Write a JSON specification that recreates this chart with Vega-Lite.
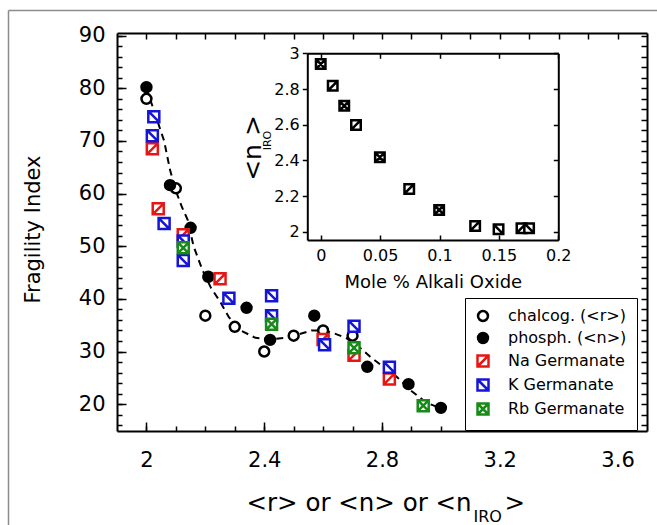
{
  "$schema": "https://vega.github.io/schema/vega-lite/v6.json",
  "width": 530,
  "height": 398,
  "autosize": {"type": "none"},
  "padding": {"left": 117, "top": 33, "right": 10, "bottom": 94},
  "background": "white",
  "config": {
    "view": {"stroke": null},
    "font": "DejaVu Sans",
    "axis": {
      "grid": false,
      "domainColor": "black",
      "domainWidth": 2,
      "tickColor": "black",
      "tickWidth": 1.5,
      "labelColor": "black",
      "titleColor": "black",
      "labelFont": "DejaVu Sans",
      "titleFont": "DejaVu Sans",
      "titleFontWeight": "normal",
      "labelFlush": false,
      "labelOverlap": false,
      "labelExpr": "'' + datum.value"
    }
  },
  "datasets": {
    "curve": [
      {"r": 2.0, "fi": 80}, {"r": 2.03, "fi": 75}, {"r": 2.06, "fi": 70}, {"r": 2.08, "fi": 64.5},
      {"r": 2.1, "fi": 60.5}, {"r": 2.12, "fi": 57.5}, {"r": 2.14, "fi": 55}, {"r": 2.16, "fi": 50},
      {"r": 2.19, "fi": 45.5}, {"r": 2.22, "fi": 42}, {"r": 2.25, "fi": 39.5}, {"r": 2.28, "fi": 36.5},
      {"r": 2.32, "fi": 34}, {"r": 2.37, "fi": 32.6}, {"r": 2.42, "fi": 32.3}, {"r": 2.47, "fi": 32.6},
      {"r": 2.52, "fi": 33.3}, {"r": 2.56, "fi": 34}, {"r": 2.6, "fi": 34}, {"r": 2.64, "fi": 33.4},
      {"r": 2.68, "fi": 32.5}, {"r": 2.72, "fi": 31}, {"r": 2.76, "fi": 29}, {"r": 2.8, "fi": 27.3},
      {"r": 2.85, "fi": 25.2}, {"r": 2.9, "fi": 22.5}, {"r": 2.95, "fi": 20.3}, {"r": 3.0, "fi": 19.2}
    ],
    "main": [
      {"series": "chalcog. (<r>)", "r": 2.0, "fi": 78},
      {"series": "chalcog. (<r>)", "r": 2.1, "fi": 61},
      {"series": "chalcog. (<r>)", "r": 2.2, "fi": 36.8},
      {"series": "chalcog. (<r>)", "r": 2.3, "fi": 34.7},
      {"series": "chalcog. (<r>)", "r": 2.4, "fi": 30},
      {"series": "chalcog. (<r>)", "r": 2.5, "fi": 33},
      {"series": "chalcog. (<r>)", "r": 2.6, "fi": 34},
      {"series": "chalcog. (<r>)", "r": 2.7, "fi": 33},
      {"series": "phosph. (<n>)", "r": 2.0, "fi": 80.2},
      {"series": "phosph. (<n>)", "r": 2.08, "fi": 61.6},
      {"series": "phosph. (<n>)", "r": 2.15, "fi": 53.5},
      {"series": "phosph. (<n>)", "r": 2.21, "fi": 44.2},
      {"series": "phosph. (<n>)", "r": 2.34, "fi": 38.3},
      {"series": "phosph. (<n>)", "r": 2.42, "fi": 32.2},
      {"series": "phosph. (<n>)", "r": 2.57, "fi": 36.8},
      {"series": "phosph. (<n>)", "r": 2.75, "fi": 27.1},
      {"series": "phosph. (<n>)", "r": 2.89, "fi": 23.8},
      {"series": "phosph. (<n>)", "r": 3.0, "fi": 19.3},
      {"series": "Na Germanate", "r": 2.02, "fi": 68.5},
      {"series": "Na Germanate", "r": 2.04, "fi": 57.1},
      {"series": "Na Germanate", "r": 2.125, "fi": 52.2},
      {"series": "Na Germanate", "r": 2.25, "fi": 43.8},
      {"series": "Na Germanate", "r": 2.6, "fi": 32.3},
      {"series": "Na Germanate", "r": 2.705, "fi": 29.3},
      {"series": "Na Germanate", "r": 2.825, "fi": 24.8},
      {"series": "K Germanate", "r": 2.025, "fi": 74.6},
      {"series": "K Germanate", "r": 2.02, "fi": 71},
      {"series": "K Germanate", "r": 2.06, "fi": 54.3},
      {"series": "K Germanate", "r": 2.125, "fi": 51},
      {"series": "K Germanate", "r": 2.125, "fi": 47.3},
      {"series": "K Germanate", "r": 2.28, "fi": 40.1},
      {"series": "K Germanate", "r": 2.425, "fi": 40.6},
      {"series": "K Germanate", "r": 2.425, "fi": 36.8},
      {"series": "K Germanate", "r": 2.605, "fi": 31.3},
      {"series": "K Germanate", "r": 2.705, "fi": 34.8},
      {"series": "K Germanate", "r": 2.825, "fi": 27},
      {"series": "Rb Germanate", "r": 2.125, "fi": 49.7},
      {"series": "Rb Germanate", "r": 2.425, "fi": 35.2},
      {"series": "Rb Germanate", "r": 2.705, "fi": 30.7},
      {"series": "Rb Germanate", "r": 2.94, "fi": 19.7}
    ],
    "inset": [
      {"mole": 0.0, "niro": 2.94, "kind": "cross"},
      {"mole": 0.0101, "niro": 2.818, "kind": "slash"},
      {"mole": 0.0198, "niro": 2.706, "kind": "cross"},
      {"mole": 0.0297, "niro": 2.599, "kind": "slash"},
      {"mole": 0.0498, "niro": 2.418, "kind": "cross"},
      {"mole": 0.0745, "niro": 2.241, "kind": "slash"},
      {"mole": 0.0997, "niro": 2.123, "kind": "cross"},
      {"mole": 0.13, "niro": 2.034, "kind": "slash"},
      {"mole": 0.1497, "niro": 2.015, "kind": "back"},
      {"mole": 0.169, "niro": 2.021, "kind": "slash"},
      {"mole": 0.1754, "niro": 2.021, "kind": "back"}
    ]
  },
  "layer": [
    {
      "data": {"name": "curve"},
      "mark": {"type": "point", "opacity": 0},
      "encoding": {
        "x": {"field": "r", "type": "quantitative",
          "scale": {"domain": [1.9, 3.7], "range": [-109, 540], "nice": false, "zero": false},
          "axis": {"orient": "top", "offset": 23, "domainColor": "#8c8c8c", "domainWidth": 1.5,
            "ticks": false, "labels": false, "title": null}},
        "y": {"field": "fi", "type": "quantitative",
          "scale": {"domain": [14.9, 90.5], "range": [492, -23], "nice": false, "zero": false},
          "axis": {"orient": "left", "offset": 109, "domainColor": "#8c8c8c", "domainWidth": 1.5,
            "ticks": false, "labels": false, "title": null}}
      }
    },
    {
      "layer": [
        {
          "data": {"name": "curve"},
          "mark": {"type": "line", "stroke": "black", "strokeWidth": 2, "strokeDash": [7, 5]},
          "encoding": {
            "x": {"field": "r", "type": "quantitative",
              "scale": {"domain": [1.9, 3.7], "nice": false, "zero": false},
              "axis": {"orient": "bottom", "values": [2, 2.4, 2.8, 3.2, 3.6], "tickSize": -9,
                "labelFontSize": 21, "labelPadding": 27,
                "title": "<r> or <n> or <n", "titleFontSize": 24.5, "titleAlign": "left",
                "titleBaseline": "alphabetic", "titleX": 129, "titleY": 79, "titleAngle": 0}},
            "y": {"field": "fi", "type": "quantitative",
              "scale": {"domain": [14.9, 90.5], "nice": false, "zero": false},
              "axis": {"orient": "left", "values": [20, 30, 40, 50, 60, 70, 80, 90], "tickSize": -9,
                "labelFontSize": 21, "labelPadding": 21,
                "title": "Fragility Index", "titleFontSize": 21, "titleX": -84, "titleY": 196,
                "titleAngle": -90, "titleAlign": "center", "titleBaseline": "middle"}}
          }
        },
        {
          "data": {"name": "main"},
          "transform": [{"filter": {"field": "series", "oneOf": ["chalcog. (<r>)", "phosph. (<n>)"]}}],
          "mark": {"type": "point", "size": 121, "strokeWidth": 2.5, "opacity": 1, "fillOpacity": 1, "strokeOpacity": 1},
          "encoding": {
            "x": {"field": "r", "type": "quantitative",
              "axis": {"orient": "bottom", "values": [2, 2.1, 2.2, 2.3, 2.4, 2.5, 2.6, 2.7, 2.8, 2.9, 3, 3.1, 3.2, 3.3, 3.4, 3.5, 3.6],
                "tickSize": -5, "labels": false, "domain": false,
                "title": "IRO", "titleFontSize": 16, "titleAlign": "left", "titleBaseline": "alphabetic",
                "titleX": 356, "titleY": 90, "titleAngle": 0}},
            "y": {"field": "fi", "type": "quantitative",
              "axis": {"orient": "left", "values": [16, 18, 20, 22, 24, 26, 28, 30, 32, 34, 36, 38, 40, 42, 44, 46, 48, 50, 52, 54, 56, 58, 60, 62, 64, 66, 68, 70, 72, 74, 76, 78, 80, 82, 84, 86, 88, 90],
                "tickSize": -5, "labels": false, "domain": false, "title": null}},
            "shape": {"field": "series", "type": "nominal",
              "scale": {"domain": ["chalcog. (<r>)", "phosph. (<n>)", "Na Germanate", "K Germanate", "Rb Germanate"],
                "range": ["M-0.9,0A0.9,0.9 0 1,1 0.9,0A0.9,0.9 0 1,1 -0.9,0Z", "M-0.9,0A0.9,0.9 0 1,1 0.9,0A0.9,0.9 0 1,1 -0.9,0Z", "M-1,-1H1V1H-1Z M-1,1L1,-1", "M-1,-1H1V1H-1Z M-1,-1L1,1", "M-1,-1H1V1H-1Z M-1,-1L1,1 M-1,1L1,-1"]},
              "legend": {"title": null, "orient": "none", "legendX": 348, "legendY": 265, "strokeColor": "black",
                "fillColor": "white", "padding": 10, "symbolSize": 121, "symbolStrokeWidth": 2.5,
                "labelFontSize": 16, "labelFont": "DejaVu Sans", "rowPadding": 2, "labelOffset": 17,
                "encode": {"labels": {"update": {"fill": {"signal": "datum.label === 'Na Germanate' ? '#e81515' : datum.label === 'K Germanate' ? '#1515d8' : datum.label === 'Rb Germanate' ? '#178a17' : 'black'"}}},
                  "legend": {"update": {"strokeWidth": {"value": 1.5}}}}}},
            "stroke": {"field": "series", "type": "nominal",
              "scale": {"domain": ["chalcog. (<r>)", "phosph. (<n>)", "Na Germanate", "K Germanate", "Rb Germanate"],
                "range": ["black", "black", "#e81515", "#1515d8", "#178a17"]},
              "legend": {"title": null, "orient": "none", "legendX": 348, "legendY": 265}},
            "fill": {"field": "series", "type": "nominal",
              "scale": {"domain": ["chalcog. (<r>)", "phosph. (<n>)", "Na Germanate", "K Germanate", "Rb Germanate"],
                "range": ["white", "black", "white", "white", "white"]},
              "legend": {"title": null, "orient": "none", "legendX": 348, "legendY": 265}}
          }
        },
        {
          "data": {"name": "main"},
          "transform": [{"filter": {"field": "series", "oneOf": ["Na Germanate", "K Germanate", "Rb Germanate"]}}],
          "mark": {"type": "point", "size": 121, "strokeWidth": 2.5, "opacity": 1, "fillOpacity": 1, "strokeOpacity": 1},
          "encoding": {
            "x": {"field": "r", "type": "quantitative",
              "axis": {"orient": "top", "values": [2, 2.1, 2.2, 2.3, 2.4, 2.5, 2.6, 2.7, 2.8, 2.9, 3, 3.1, 3.2, 3.3, 3.4, 3.5, 3.6],
                "tickSize": -6, "labels": false, "domain": true,
                "title": ">", "titleFontSize": 24.5, "titleAlign": "left", "titleBaseline": "alphabetic",
                "titleX": 387, "titleY": 477, "titleAngle": 0}},
            "y": {"field": "fi", "type": "quantitative",
              "axis": {"orient": "right", "values": [16, 18, 20, 22, 24, 26, 28, 30, 32, 34, 36, 38, 40, 42, 44, 46, 48, 50, 52, 54, 56, 58, 60, 62, 64, 66, 68, 70, 72, 74, 76, 78, 80, 82, 84, 86, 88, 90],
                "tickSize": -6, "labels": false, "domain": true, "title": null}},
            "shape": {"field": "series", "type": "nominal"},
            "stroke": {"field": "series", "type": "nominal"},
            "fill": {"field": "series", "type": "nominal"}
          }
        }
      ],
      "resolve": {"axis": {"x": "independent", "y": "independent"}}
    },
    {
      "layer": [
        {
          "data": {"name": "inset"},
          "transform": [{"filter": {"field": "kind", "equal": "cross"}}],
          "mark": {"type": "point", "shape": "M-1,-1H1V1H-1Z M-1,-1L1,1 M-1,1L1,-1", "size": 90, "strokeWidth": 2.5, "stroke": "black", "fill": "white", "opacity": 1, "fillOpacity": 1},
          "encoding": {
            "x": {"field": "mole", "type": "quantitative",
              "scale": {"domain": [-0.0113, 0.2], "range": [190.3, 441.3], "nice": false, "zero": false},
              "axis": {"orient": "bottom", "offset": -191, "values": [0, 0.05, 0.1, 0.15, 0.2], "tickSize": -5,
                "labelFontSize": 16, "labelPadding": 12, "title": "Mole % Alkali Oxide", "titleFontSize": 18, "titlePadding": 10}},
            "y": {"field": "niro", "type": "quantitative",
              "scale": {"domain": [1.955, 3.0], "range": [207, 20.3], "nice": false, "zero": false},
              "axis": {"orient": "left", "offset": -190.3, "values": [2, 2.2, 2.4, 2.6, 2.8, 3], "tickSize": 5,
                "labelFontSize": 16, "labelPadding": 3,
                "title": "<n  >", "titleFontSize": 25, "titleAngle": -90, "titleAlign": "center", "titleBaseline": "middle",
                "titleX": -55, "titleY": 114.5}}
          }
        },
        {
          "data": {"name": "inset"},
          "transform": [{"filter": {"field": "kind", "equal": "slash"}}],
          "mark": {"type": "point", "shape": "M-1,-1H1V1H-1Z M-1,1L1,-1", "size": 90, "strokeWidth": 2.5, "stroke": "black", "fill": "white", "opacity": 1, "fillOpacity": 1},
          "encoding": {
            "x": {"field": "mole", "type": "quantitative",
              "axis": {"orient": "top", "offset": -20.3, "values": [0, 0.05, 0.1, 0.15, 0.2], "tickSize": -5,
                "labels": false, "title": null}},
            "y": {"field": "niro", "type": "quantitative",
              "axis": {"orient": "right", "offset": -88.7, "values": [2, 2.2, 2.4, 2.6, 2.8, 3], "tickSize": -5,
                "labels": false, "title": "IRO", "titleFontSize": 11, "titleAngle": -90, "titleAlign": "center", "titleBaseline": "middle",
                "titleX": -291, "titleY": 107}}
          }
        },
        {
          "data": {"name": "inset"},
          "transform": [{"filter": {"field": "kind", "equal": "back"}}],
          "mark": {"type": "point", "shape": "M-1,-1H1V1H-1Z M-1,-1L1,1", "size": 90, "strokeWidth": 2.5, "stroke": "black", "fill": "white", "opacity": 1, "fillOpacity": 1},
          "encoding": {
            "x": {"field": "mole", "type": "quantitative", "axis": null},
            "y": {"field": "niro", "type": "quantitative", "axis": null}
          }
        }
      ],
      "resolve": {"axis": {"x": "independent", "y": "independent"}}
    }
  ],
  "resolve": {
    "scale": {"x": "independent", "y": "independent"},
    "axis": {"x": "independent", "y": "independent"}
  }
}
